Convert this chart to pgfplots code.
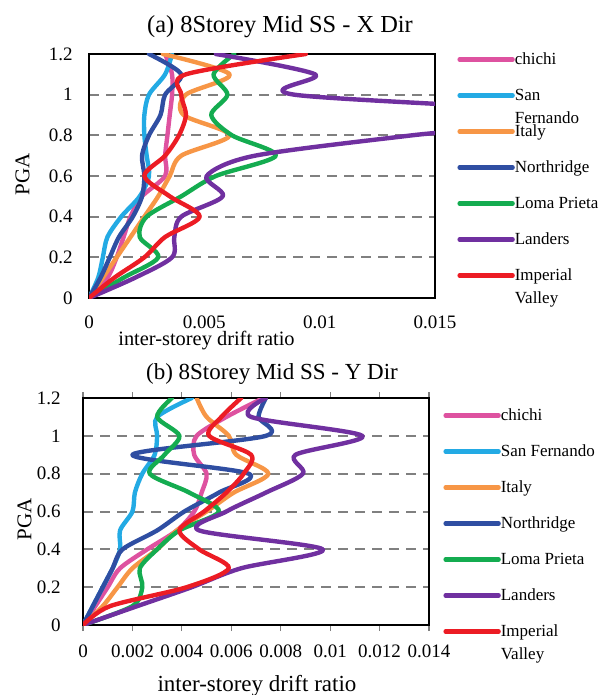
\documentclass[border=0pt]{standalone}
\usepackage{pgfplots}
\pgfplotsset{compat=1.18}
\usepackage{fontspec}
\setmainfont{Liberation Serif}
\definecolor{cchichi}{RGB}{222,82,160}
\definecolor{csanf}{RGB}{35,170,228}
\definecolor{citaly}{RGB}{247,150,70}
\definecolor{cnorth}{RGB}{47,78,162}
\definecolor{cloma}{RGB}{20,172,80}
\definecolor{clanders}{RGB}{112,48,160}
\definecolor{cimp}{RGB}{236,28,36}
\newcommand\lgone[1]{#1\rule[-2.5pt]{0pt}{9pt}}
\newcommand\lgtwo[2]{\makebox[0pt][l]{\raisebox{-11.5pt}[0pt][0pt]{#2}}#1\rule[-2.5pt]{0pt}{9pt}}
\pgfplotsset{
 mystyle/.style={
  scale only axis, width=173pt, xmin=0, ymin=0, ymax=1.2,
  scaled x ticks=false, scaled y ticks=false,
  ytick={0,0.2,0.4,0.6,0.8,1,1.2}, yticklabels={0,0.2,0.4,0.6,0.8,1,1.2},
  ymajorgrids, major grid style={gray, dash pattern=on 5pt off 3.5pt, line width=1pt},
  axis line style={line width=0.9pt},
  ytick style={draw=none},
  tick label style={font=\fontsize{9.5}{11}\selectfont},
  /pgf/number format/assume math mode=true,
  yticklabel style={inner sep=0pt, xshift=-8pt},
  legend image code/.code={\draw[##1, line width=2.2pt] (0pt,0pt) -- (26.5pt,0pt);},
  legend cell align=left,
  legend style={draw=none, fill=none, inner sep=0pt, nodes={inner sep=0pt}, row sep=10pt, column sep=0pt, font=\fontsize{8.5}{10}\selectfont, anchor=north west},
  every axis plot/.append style={line width=2.2pt, smooth, tension=0.5, line cap=round, line join=round},
 }
}
\begin{document}
\begin{tikzpicture}
\path[use as bounding box] (0,0) rectangle (302pt,-347.5pt);
% ---------- (a) X Dir ----------
\begin{axis}[mystyle, at={(44.5pt,-149pt)}, anchor=south west, height=122pt,
  xmax=0.015, xtick={0,0.005,0.01,0.015}, xticklabels={0,0.005,0.01,0.015},
  xtick style={draw=none},
  xticklabel style={inner sep=0pt, yshift=-8.8pt},
  legend style={at={(1.0636,1.0123)}}]
\addplot[cchichi] coordinates {(0,0) (0.0008,0.1) (0.0012,0.2) (0.0015,0.3) (0.0018,0.4) (0.0023,0.5) (0.0033,0.6) (0.0033,0.7) (0.0034,0.8) (0.0035,0.9) (0.0036,1.0) (0.0036,1.1) (0.0033,1.2)};
\addlegendentry{\lgone{chichi}}
\addplot[csanf] coordinates {(0,0) (0.0004,0.1) (0.0006,0.2) (0.0008,0.3) (0.0014,0.4) (0.0022,0.5) (0.0026,0.6) (0.0025,0.7) (0.0024,0.8) (0.0024,0.9) (0.0026,1.0) (0.0033,1.1) (0.0036,1.2)};
\addlegendentry{\lgtwo{San}{Fernando}}
\addplot[citaly] coordinates {(0,0) (0.0006,0.1) (0.0012,0.2) (0.0018,0.3) (0.0024,0.4) (0.0030,0.5) (0.0035,0.6) (0.0040,0.7) (0.0061,0.8) (0.0041,0.9) (0.0042,1.0) (0.0061,1.1) (0.0032,1.2)};
\addlegendentry{\lgone{Italy}}
\addplot[cnorth] coordinates {(0,0) (0.0005,0.1) (0.0009,0.2) (0.0013,0.3) (0.0019,0.4) (0.0023,0.5) (0.0024,0.6) (0.0023,0.7) (0.0026,0.8) (0.0031,0.9) (0.0033,1.0) (0.0040,1.1) (0.0026,1.2)};
\addlegendentry{\lgone{Northridge}}
\addplot[cloma] coordinates {(0,0) (0.0015,0.1) (0.0030,0.2) (0.0022,0.3) (0.0025,0.4) (0.0040,0.5) (0.0055,0.6) (0.0081,0.7) (0.0062,0.8) (0.0053,0.9) (0.0060,1.0) (0.0054,1.1) (0.0063,1.2)};
\addlegendentry{\lgone{Loma Prieta}}
\addplot[clanders] coordinates {(0,0) (0.0020,0.1) (0.0036,0.2) (0.0037,0.3) (0.0040,0.4) (0.0058,0.5) (0.0051,0.6) (0.0072,0.7) (0.0140,0.8) (0.0220,0.9) (0.0089,1.0) (0.0098,1.1) (0.0055,1.2)};
\addlegendentry{\lgone{Landers}}
\addplot[cimp] coordinates {(0,0) (0.0011,0.1) (0.0024,0.2) (0.0033,0.3) (0.0048,0.4) (0.0035,0.5) (0.0024,0.6) (0.0033,0.7) (0.0039,0.8) (0.0042,0.9) (0.0040,1.0) (0.0042,1.1) (0.0094,1.2)};
\addlegendentry{\lgtwo{Imperial}{Valley}}
\end{axis}
% ---------- (b) Y Dir ----------
\begin{axis}[mystyle, at={(41.5pt,-312.5pt)}, anchor=south west, height=113.5pt,
  xmax=0.014, xtick={0,0.002,0.004,0.006,0.008,0.01,0.012,0.014},
  xticklabels={0,0.002,0.004,0.006,0.008,0.01,0.012,0.014},
  xtick style={draw=gray, line width=0.6pt}, tick align=outside, major tick length=3pt,
  xticklabel style={inner sep=0pt, yshift=-6.8pt},
  legend style={at={(1.0405,0.9604)}}]
\addplot[cchichi] coordinates {(0,0) (0.0005,0.1) (0.0010,0.2) (0.0015,0.3) (0.0026,0.4) (0.0038,0.5) (0.0045,0.6) (0.0048,0.7) (0.0050,0.8) (0.0045,0.9) (0.0046,1.0) (0.0058,1.1) (0.0073,1.2)};
\addlegendentry{\lgone{chichi}}
\addplot[csanf] coordinates {(0,0) (0.0004,0.1) (0.0008,0.2) (0.0012,0.3) (0.0015,0.4) (0.0015,0.5) (0.0020,0.6) (0.0021,0.7) (0.0024,0.8) (0.0029,0.9) (0.0030,1.0) (0.0030,1.1) (0.0044,1.2)};
\addlegendentry{\lgone{San Fernando}}
\addplot[citaly] coordinates {(0,0) (0.0008,0.1) (0.0014,0.2) (0.0020,0.3) (0.0030,0.4) (0.0038,0.5) (0.0050,0.6) (0.0061,0.7) (0.0075,0.8) (0.0062,0.9) (0.0059,1.0) (0.0050,1.1) (0.0046,1.2)};
\addlegendentry{\lgone{Italy}}
\addplot[cnorth] coordinates {(0,0) (0.0004,0.1) (0.0008,0.2) (0.0012,0.3) (0.0016,0.4) (0.0030,0.5) (0.0041,0.6) (0.0055,0.7) (0.0067,0.8) (0.0020,0.9) (0.0074,1.0) (0.0071,1.1) (0.0074,1.2)};
\addlegendentry{\lgone{Northridge}}
\addplot[cloma] coordinates {(0,0) (0.0020,0.1) (0.0024,0.2) (0.0023,0.3) (0.0030,0.4) (0.0039,0.5) (0.0055,0.6) (0.0043,0.7) (0.0027,0.8) (0.0033,0.9) (0.0039,1.0) (0.0030,1.1) (0.0036,1.2)};
\addlegendentry{\lgone{Loma Prieta}}
\addplot[clanders] coordinates {(0,0) (0.0022,0.1) (0.0044,0.2) (0.0064,0.3) (0.0097,0.4) (0.0047,0.5) (0.0058,0.6) (0.0074,0.7) (0.0089,0.8) (0.0086,0.9) (0.0113,1.0) (0.0068,1.1) (0.0074,1.2)};
\addlegendentry{\lgone{Landers}}
\addplot[cimp] coordinates {(0,0) (0.0011,0.1) (0.0042,0.2) (0.0059,0.3) (0.0047,0.4) (0.0039,0.5) (0.0049,0.6) (0.0058,0.7) (0.0065,0.8) (0.0068,0.9) (0.0051,1.0) (0.0056,1.1) (0.0064,1.2)};
\addlegendentry{\lgtwo{Imperial}{Valley}}
\end{axis}
% ---------- titles and labels ----------
\node[font=\fontsize{12.2}{14}\selectfont] at (140pt,-13.5pt) {(a) 8Storey Mid SS - X Dir};
\node[font=\fontsize{11.5}{13}\selectfont] at (136pt,-187pt) {(b) 8Storey Mid SS - Y Dir};
\node[font=\fontsize{10.5}{12}\selectfont, rotate=90] at (11.25pt,-87pt) {PGA};
\node[font=\fontsize{10.5}{12}\selectfont, rotate=90] at (12.25pt,-259.5pt) {PGA};
\node[font=\fontsize{10.2}{12}\selectfont] at (103.25pt,-170.5pt) {inter-storey drift ratio};
\node[font=\fontsize{11.5}{13}\selectfont] at (128.5pt,-343pt) {inter-storey drift ratio};
\end{tikzpicture}
\end{document}
